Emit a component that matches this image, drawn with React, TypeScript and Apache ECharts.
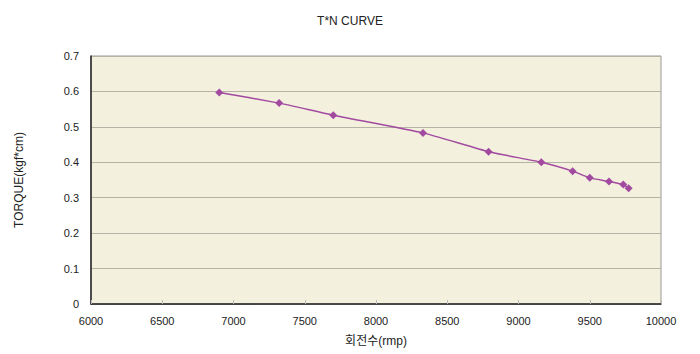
import React, { useEffect, useRef } from "react";
import * as echarts from "echarts";

const rpm = [6900, 7320, 7700, 8330, 8790, 9160, 9380, 9500, 9635, 9735, 9773];
const torque = [0.597, 0.567, 0.533, 0.483, 0.43, 0.4, 0.375, 0.356, 0.346, 0.337, 0.327];
const titleText = "T*N CURVE";
const xName = "회전수(rmp)";
const yName = "TORQUE(kgf*cm)";

const FONT = "'Liberation Sans', 'Noto Sans CJK KR', sans-serif";

export default function App() {
  const ref = useRef<HTMLDivElement>(null);
  useEffect(() => {
    if (!ref.current) return;
    const chart = echarts.init(ref.current, undefined, { renderer: "svg" });
    chart.setOption({
      animation: false,
      backgroundColor: "#ffffff",
      title: {
        text: titleText,
        left: "center",
        top: 10,
        textStyle: { fontFamily: FONT, fontSize: 12, fontWeight: "normal", color: "#222" },
      },
      grid: {
        left: 91,
        right: 39,
        top: 56,
        bottom: 50,
        show: true,
        backgroundColor: "#F3F0DE",
        borderColor: "#999999",
        borderWidth: 1,
      },
      xAxis: {
        type: "value",
        min: 6000,
        max: 10000,
        interval: 500,
        name: xName,
        nameLocation: "middle",
        nameGap: 31,
        nameTextStyle: { fontFamily: FONT, fontSize: 12, color: "#222" },
        axisLine: { lineStyle: { color: "#222", width: 1.5 } },
        axisTick: { inside: true, length: 4, lineStyle: { color: "#bbb" } },
        axisLabel: {
          fontFamily: FONT,
          fontSize: 11,
          color: "#222",
          margin: 11,
          formatter: (v: number) => String(v),
        },
        splitLine: { show: false },
      },
      yAxis: {
        type: "value",
        min: 0,
        max: 0.7,
        interval: 0.1,
        name: yName,
        nameLocation: "middle",
        nameGap: 66,
        nameTextStyle: { fontFamily: FONT, fontSize: 12, color: "#222" },
        axisLine: { show: true, lineStyle: { color: "#222", width: 1.5 } },
        axisTick: { show: false },
        axisLabel: {
          fontFamily: FONT,
          fontSize: 11,
          color: "#222",
          margin: 12,
          formatter: (v: number) => (v === 0 ? "0" : v.toFixed(1)),
        },
        splitLine: { show: true, lineStyle: { color: "#b5b3a5", width: 1 } },
      },
      series: [
        {
          type: "line",
          data: rpm.map((x, i) => [x, torque[i]]),
          smooth: 0.15,
          symbol: "diamond",
          symbolSize: 8,
          lineStyle: { color: "#A24AA0", width: 1.5 },
          itemStyle: { color: "#A24AA0" },
        },
      ],
    });
    return () => chart.dispose();
  }, []);
  return <div ref={ref} style={{ width: 700, height: 354, marginTop: -8, marginLeft: -8 }} />;
}
